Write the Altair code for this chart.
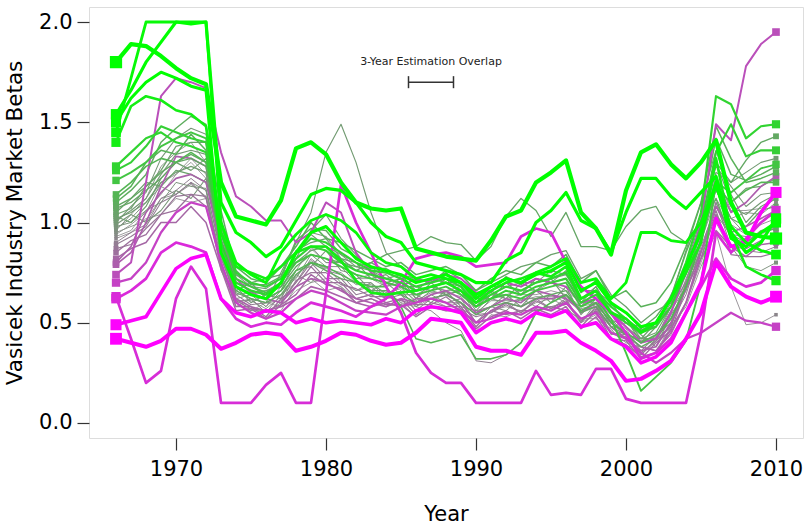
import altair as alt
import pandas as pd

years = list(range(1966, 2011))

GA = [1.80,1.89,1.88,1.83,1.77, 1.72,1.69,1.20,1.03,1.01, 0.99,1.11,1.37,1.40,1.34, 1.20,1.10,1.07,1.06,1.07, 0.87,0.85,0.83,0.82,0.81, 0.91,1.03,1.06,1.20,1.25, 1.31,1.05,0.97,0.84,1.16, 1.35,1.39,1.29,1.22,1.30, 1.41,1.10,0.95,0.93,0.92]
GB = [1.54,1.66,1.80,1.90,2.00, 1.99,2.00,1.10,0.95,0.90, 0.83,0.88,1.01,1.14,1.17, 1.16,1.10,1.00,0.93,0.90, 0.80,0.78,0.76,0.74,0.70, 0.70,0.81,0.85,1.00,1.06, 1.15,1.01,0.97,0.85,1.05, 1.22,1.22,1.13,1.07,1.15, 1.23,0.95,0.85,0.90,1.02]
GC = [1.45,1.72,2.00,2.00,2.00, 2.00,2.00,1.00,0.80,0.74, 0.70,0.85,0.94,1.01,1.04, 1.01,0.95,0.85,0.80,0.78, 0.72,0.74,0.72,0.70,0.62, 0.68,0.72,0.70,0.75,0.78, 0.82,0.70,0.72,0.62,0.70, 0.95,0.95,0.91,0.90,1.00, 1.18,0.98,0.90,0.86,0.84]
GD = [1.40,1.58,1.63,1.61,1.56, 1.54,1.48,0.95,0.78,0.75, 0.72,0.78,0.85,0.88,0.88, 0.81,0.71,0.65,0.64,0.65, 0.66,0.68,0.70,0.66,0.60, 0.66,0.70,0.72,0.75,0.73, 0.78,0.62,0.66,0.55,0.52, 0.45,0.50,0.62,0.75,0.90, 1.32,0.95,0.78,0.74,0.71]
GE = [1.50,1.62,1.70,1.75,1.72, 1.68,1.66,0.85,0.68,0.64, 0.62,0.70,0.85,0.95,0.98, 0.90,0.82,0.78,0.76,0.74, 0.70,0.72,0.74,0.70,0.64, 0.68,0.72,0.70,0.74,0.76, 0.80,0.66,0.70,0.60,0.55, 0.48,0.50,0.62,0.78,0.95, 1.20,0.92,0.88,0.95,1.00]
G1 = [1.28,1.35,1.42,1.45,1.40, 1.38,1.35,0.90,0.70,0.66, 0.64,0.70,0.85,0.92,0.90, 0.85,0.80,0.76,0.75,0.72, 0.68,0.70,0.72,0.68,0.60, 0.64,0.68,0.66,0.70,0.72, 0.75,0.62,0.66,0.58,0.52, 0.46,0.50,0.62,0.80,1.05, 1.63,1.59,1.42,1.48,1.49]
G2 = [1.26,1.30,1.38,1.48,1.45, 1.42,1.40,0.95,0.75,0.70, 0.68,0.72,0.82,0.88,0.86, 0.80,0.76,0.74,0.72,0.70, 0.66,0.68,0.70,0.66,0.58, 0.62,0.66,0.64,0.68,0.70, 0.72,0.60,0.64,0.55,0.50, 0.45,0.48,0.58,0.75,0.98, 1.35,1.49,1.33,1.36,1.36]
G3 = [1.21,1.25,1.30,1.38,1.42, 1.45,1.42,1.00,0.72,0.68, 0.65,0.70,0.80,0.84,0.82, 0.78,0.74,0.72,0.70,0.68, 0.64,0.66,0.68,0.64,0.58, 0.62,0.64,0.62,0.66,0.68, 0.70,0.58,0.62,0.52,0.35, 0.16,0.23,0.30,0.41,0.70, 1.20,1.15,1.21,1.27,1.29]
G4 = [1.14,1.20,1.28,1.32,1.30, 1.35,1.30,0.90,0.68,0.64, 0.62,0.66,0.76,0.80,0.78, 0.74,0.70,0.68,0.68,0.58, 0.42,0.40,0.42,0.44,0.32, 0.32,0.34,0.40,0.55,0.60, 0.64,0.56,0.60,0.50,0.45, 0.40,0.44,0.52,0.68,0.90, 1.18,1.10,1.16,1.20,1.20]
G5 = [1.08,1.12,1.18,1.25,1.30, 1.32,1.28,0.88,0.66,0.62, 0.60,0.64,0.74,0.80,0.76, 0.72,0.70,0.66,0.66,0.64, 0.60,0.62,0.64,0.60,0.54, 0.58,0.60,0.58,0.62,0.64, 0.66,0.55,0.58,0.48,0.44, 0.38,0.42,0.52,0.68,0.92, 1.30,1.20,1.31,1.40,1.43]
N1 = [1.07,1.10,1.16,1.22,1.30, 1.34,1.30,0.92,0.70,0.66, 0.64,0.68,0.78,0.84,0.82, 0.80,0.78,0.80,0.84,0.86, 0.88,0.93,0.90,0.89,0.81, 0.88,1.03,1.12,1.06,0.93, 1.05,0.88,0.88,0.86,0.98, 1.06,1.08,0.95,0.90,0.98, 1.12,0.92,0.90,0.95,0.97]
N2 = [1.02,1.05,1.10,1.20,1.25, 1.28,1.25,0.85,0.65,0.62, 0.60,0.75,0.90,1.05,1.35, 1.49,1.30,1.05,0.85,0.78, 0.70,0.72,0.74,0.70,0.62, 0.66,0.70,0.68,0.72,0.70, 0.72,0.62,0.66,0.55,0.48, 0.42,0.45,0.58,0.76,0.98, 1.25,1.20,1.25,1.30,1.32]
N3 = [0.97,1.02,1.10,1.18,1.14, 1.20,1.16,0.78,0.58,0.62, 0.55,0.60,0.74,0.70,0.78, 0.70,0.66,0.70,0.62,0.66, 0.58,0.64,0.60,0.62,0.50, 0.58,0.56,0.62,0.58,0.64, 0.60,0.50,0.60,0.44,0.46, 0.34,0.42,0.48,0.70,0.82, 1.10,0.88,0.78,0.76,0.80]
N4 = [0.96,1.04,1.12,1.28,1.35, 1.40,1.30,0.98,0.72,0.64, 0.66,0.70,0.82,0.88,0.80, 0.80,0.72,0.74,0.68,0.72, 0.64,0.68,0.66,0.66,0.56, 0.64,0.64,0.66,0.66,0.70, 0.66,0.60,0.60,0.54,0.44, 0.42,0.42,0.58,0.70,0.96, 1.16,1.02,1.05,1.04,1.10]
N5 = [0.92,0.95,1.02,1.04,1.12, 1.10,1.12,0.76,0.62,0.56, 0.56,0.56,0.68,0.72,0.66, 0.68,0.60,0.62,0.58,0.60, 0.53,0.58,0.56,0.57,0.46, 0.54,0.53,0.56,0.56,0.58, 0.56,0.52,0.52,0.47,0.38, 0.38,0.36,0.48,0.58,0.78, 0.95,0.68,0.49,0.50,0.54]
N6 = [0.89,0.93,0.98,1.10,1.14, 1.20,1.12,0.82,0.64,0.59, 0.60,0.61,0.70,0.80,0.72, 0.72,0.64,0.66,0.62,0.64, 0.56,0.62,0.60,0.60,0.54, 0.55,0.60,0.55,0.62,0.57, 0.62,0.50,0.58,0.45,0.44, 0.34,0.41,0.48,0.70,0.86, 1.10,0.94,0.93,0.95,1.00]
N7 = [0.85,0.91,0.94,1.04,1.06, 1.14,1.08,0.80,0.58,0.58, 0.53,0.62,0.68,0.78,0.70, 0.70,0.62,0.64,0.60,0.62, 0.54,0.60,0.58,0.58,0.48, 0.56,0.54,0.56,0.56,0.58, 0.56,0.48,0.56,0.42,0.41, 0.32,0.40,0.46,0.67,0.82, 1.04,0.88,0.87,0.91,0.95]
N8 = [0.82,0.87,0.90,1.00,1.00, 1.08,1.00,0.77,0.56,0.57, 0.52,0.59,0.64,0.74,0.69, 0.67,0.60,0.62,0.59,0.59, 0.53,0.58,0.56,0.56,0.47, 0.53,0.56,0.52,0.57,0.54, 0.58,0.47,0.53,0.42,0.39, 0.33,0.35,0.47,0.60,0.82, 0.96,0.88,0.83,0.89,0.90]
N9 = [1.00,1.08,1.15,1.32,1.42, 1.47,1.44,1.02,0.74,0.68, 0.67,0.72,0.90,0.95,0.93, 0.84,0.80,0.78,0.72,0.74, 0.66,0.72,0.70,0.70,0.60, 0.68,0.68,0.70,0.70,0.76, 0.74,0.66,0.66,0.60,0.50, 0.48,0.48,0.64,0.78,1.02, 1.28,1.18,1.08,1.14,1.15]
N10 = [0.98,1.00,1.06,1.10,1.20, 1.18,1.17,0.84,0.62,0.64, 0.58,0.66,0.72,0.84,0.78, 0.78,0.70,0.70,0.64,0.68, 0.60,0.66,0.64,0.66,0.54, 0.62,0.60,0.62,0.62,0.64, 0.62,0.56,0.58,0.52,0.44, 0.42,0.42,0.56,0.68,0.92, 1.16,1.02,0.94,1.00,1.05]
N11 = [0.94,0.99,1.05,1.20,1.24, 1.32,1.24,0.90,0.64,0.65, 0.58,0.68,0.76,0.87,0.80, 0.80,0.72,0.72,0.68,0.70, 0.62,0.68,0.66,0.68,0.56, 0.64,0.62,0.64,0.64,0.66, 0.64,0.58,0.60,0.52,0.47, 0.36,0.44,0.50,0.72,0.90, 1.24,1.06,1.06,1.07,1.12]
N12 = [1.04,1.07,1.18,1.26,1.38, 1.40,1.40,0.94,0.72,0.65, 0.66,0.68,0.86,0.90,0.92, 0.82,0.80,0.72,0.74,0.68, 0.68,0.66,0.72,0.64,0.62, 0.62,0.70,0.64,0.72,0.70, 0.76,0.60,0.68,0.54,0.52, 0.42,0.50,0.58,0.80,0.96, 1.30,1.10,1.17,1.18,1.22]
N13 = [0.90,0.95,0.99,1.12,1.16, 1.22,1.16,0.86,0.60,0.62, 0.55,0.64,0.70,0.82,0.76, 0.74,0.66,0.68,0.62,0.66, 0.58,0.56,0.50,0.46,0.31, 0.30,0.34,0.40,0.56,0.58, 0.60,0.52,0.56,0.48,0.42, 0.36,0.43,0.50,0.64,0.88, 1.08,0.92,0.86,0.85,0.88]
N14 = [0.87,0.89,0.97,1.04,1.13, 1.14,1.13,0.79,0.61,0.57, 0.56,0.59,0.71,0.75,0.75, 0.69,0.67,0.63,0.63,0.61, 0.59,0.59,0.63,0.57,0.53, 0.55,0.59,0.55,0.61,0.57, 0.61,0.51,0.57,0.45,0.43, 0.35,0.41,0.49,0.67,0.85, 1.06,0.84,0.83,0.83,0.85]
N15 = [1.10,1.16,1.24,1.40,1.47, 1.53,1.49,1.06,0.76,0.69, 0.69,0.73,0.91,0.97,0.96, 0.87,0.83,0.77,0.77,0.73, 0.71,0.71,0.75,0.69,0.63, 0.65,0.73,0.69,0.75,0.75, 0.81,0.65,0.71,0.59,0.55, 0.47,0.53,0.63,0.85,1.04, 1.42,1.24,1.21,1.24,1.28]
N16 = [0.95,0.98,1.01,1.12,1.14, 1.19,1.13,0.83,0.61,0.61, 0.57,0.63,0.73,0.81,0.77, 0.75,0.69,0.69,0.65,0.67, 0.61,0.65,0.65,0.63,0.55, 0.61,0.61,0.61,0.63,0.63, 0.63,0.57,0.59,0.51,0.44, 0.41,0.43,0.56,0.71,0.91, 1.12,0.99,0.94,0.99,1.02]
N17 = [1.03,1.00,1.08,1.22,1.30, 1.26,1.32,0.96,0.66,0.70, 0.62,0.66,0.82,0.96,1.04, 0.92,0.84,0.76,0.70,0.72, 0.62,0.70,0.64,0.66,0.58, 0.66,0.62,0.70,0.66,0.72, 0.62,0.58,0.66,0.50,0.52, 0.40,0.48,0.62,0.86,1.10, 1.36,1.14,1.00,1.08,1.12]
N18 = [1.05,1.12,1.20,1.18,1.26, 1.24,1.20,0.90,0.74,0.70, 0.72,0.74,0.80,0.86,0.88, 0.82,0.76,0.80,0.76,0.74, 0.72,0.70,0.76,0.72,0.66, 0.70,0.74,0.78,0.80,0.84, 0.86,0.72,0.76,0.64,0.58, 0.50,0.56,0.60,0.74,0.94, 1.18,1.02,0.98,1.06,1.08]
N19 = [0.99,1.04,1.00,1.06,1.16, 1.12,1.22,0.88,0.68,0.60, 0.64,0.62,0.76,0.78,0.86, 0.76,0.74,0.66,0.70,0.64, 0.64,0.60,0.66,0.58,0.56, 0.58,0.64,0.58,0.66,0.60, 0.68,0.54,0.62,0.48,0.50, 0.44,0.38,0.54,0.66,0.86, 1.04,0.94,0.90,0.96,0.98]
N20 = [1.12,1.18,1.30,1.36,1.34, 1.44,1.36,1.00,0.78,0.72, 0.70,0.78,0.88,1.00,0.92, 0.90,0.86,0.82,0.78,0.80, 0.74,0.76,0.78,0.74,0.66, 0.72,0.76,0.74,0.80,0.78, 0.84,0.70,0.76,0.62,0.66, 0.58,0.60,0.70,0.88,1.10, 1.48,1.32,1.20,1.22,1.25]
N21 = [0.93,0.96,1.06,1.14,1.24, 1.30,1.22,0.86,0.60,0.56, 0.60,0.58,0.66,0.70,0.72, 0.68,0.62,0.64,0.66,0.60, 0.58,0.62,0.58,0.60,0.50, 0.56,0.58,0.56,0.60,0.62, 0.58,0.50,0.54,0.46,0.40, 0.38,0.36,0.44,0.60,0.80, 1.00,0.86,0.92,0.94,0.98]
N22 = [1.01,1.06,1.12,1.24,1.34, 1.36,1.34,0.96,0.70,0.68, 0.64,0.70,0.84,0.94,0.88, 0.84,0.78,0.76,0.72,0.70, 0.66,0.68,0.70,0.68,0.58, 0.64,0.68,0.66,0.70,0.72, 0.74,0.62,0.68,0.56,0.50, 0.46,0.48,0.60,0.78,0.98, 1.22,1.08,1.04,1.10,1.14]
MA = [0.42,0.40,0.38,0.41,0.47, 0.47,0.44,0.37,0.40,0.44, 0.45,0.44,0.36,0.38,0.41, 0.45,0.44,0.41,0.39,0.40, 0.45,0.52,0.51,0.50,0.38, 0.36,0.36,0.34,0.45,0.45, 0.46,0.40,0.36,0.31,0.21, 0.22,0.26,0.31,0.42,0.55, 0.80,0.68,0.63,0.60,0.63]
MB = [0.49,0.51,0.53,0.65,0.77, 0.82,0.84,0.62,0.55,0.53, 0.56,0.55,0.50,0.52,0.50, 0.51,0.50,0.49,0.52,0.50, 0.56,0.58,0.57,0.55,0.45, 0.50,0.52,0.50,0.55,0.53, 0.56,0.48,0.50,0.42,0.38, 0.30,0.33,0.40,0.55,0.70, 1.02,0.88,0.90,1.05,1.15]
MC = [0.62,0.66,0.72,0.85,0.90, 0.88,0.85,0.62,0.52,0.48, 0.50,0.49,0.55,0.60,0.58, 0.56,0.53,0.58,0.62,0.70, 0.82,0.84,0.85,0.83,0.78, 0.79,0.80,0.93,0.97,0.95, 0.80,0.68,0.62,0.55,0.45, 0.32,0.35,0.42,0.55,0.68, 0.82,0.72,0.68,0.70,0.76]
LOW = [0.63,0.42,0.20,0.26,0.62, 0.78,0.67,0.10,0.10,0.10, 0.19,0.25,0.10,0.10,0.65, 1.19,1.00,0.85,0.68,0.55, 0.35,0.25,0.20,0.20,0.10, 0.10,0.10,0.10,0.26,0.14, 0.15,0.14,0.27,0.27,0.12, 0.10,0.10,0.10,0.10,0.45, 0.95,0.85,0.92,1.00,1.06]
M2 = [0.70,0.72,0.80,0.95,1.05, 1.10,1.08,0.80,0.60,0.55, 0.52,0.55,0.62,0.66,0.64, 0.60,0.56,0.55,0.54,0.58, 0.60,0.62,0.60,0.56,0.50, 0.52,0.55,0.54,0.58,0.56, 0.60,0.52,0.55,0.45,0.42, 0.35,0.30,0.35,0.42,0.45, 0.50,0.55,0.51,0.50,0.48]
M3 = [0.74,0.80,1.20,1.63,1.72, 1.70,1.67,1.35,1.13,1.08, 1.01,1.01,0.90,0.95,1.10, 1.05,0.85,0.75,0.70,0.68, 0.72,0.70,0.74,0.72,0.65, 0.66,0.70,0.68,0.72,0.70, 0.68,0.60,0.62,0.55,0.48, 0.40,0.42,0.55,0.75,1.00, 1.49,1.41,1.78,1.89,1.95]
M4 = [0.79,0.85,1.00,1.18,1.33, 1.32,1.28,0.90,0.72,0.65, 0.62,0.60,0.68,0.72,0.70, 0.66,0.62,0.60,0.58,0.62, 0.60,0.64,0.66,0.62,0.55, 0.58,0.62,0.60,0.66,0.64, 0.62,0.56,0.58,0.48,0.42, 0.36,0.38,0.50,0.68,0.92, 1.20,1.05,1.10,1.18,1.23]
M5 = [0.80,0.88,1.05,1.15,1.22, 1.24,1.20,0.88,0.62,0.58, 0.56,0.58,0.62,0.68,0.66, 0.63,0.60,0.58,0.60,0.58, 0.62,0.62,0.64,0.60,0.50, 0.56,0.60,0.58,0.62,0.62, 0.64,0.55,0.60,0.50,0.44, 0.38,0.36,0.45,0.60,0.85, 1.08,0.95,0.98,1.02,1.06]

series = {
    "GA": GA, "GB": GB, "GC": GC, "GD": GD, "GE": GE,
    "G1": G1, "G2": G2, "G3": G3, "G4": G4, "G5": G5,
    "N1": N1, "N2": N2, "N3": N3, "N4": N4, "N5": N5, "N6": N6, "N7": N7, "N8": N8,
    "N9": N9, "N10": N10, "N11": N11, "N12": N12, "N13": N13, "N14": N14, "N15": N15,
    "N16": N16, "N17": N17, "N18": N18, "N19": N19, "N20": N20, "N21": N21, "N22": N22,
    "MA": MA, "MB": MB, "MC": MC, "LOW": LOW, "M2": M2, "M3": M3, "M4": M4, "M5": M5,
}

x_ticks = [1970, 1980, 1990, 2000, 2010]
y_ticks = [0.0, 0.5, 1.0, 1.5, 2.0]
note_text = ["3-Year Estimation Overlap"]

CENTER = 0.93
start = {k: v[0] for k, v in series.items()}
order = sorted(series, key=lambda k: abs(start[k] - CENTER))
rank = {k: i for i, k in enumerate(order)}

rows = []
for name in order:
    vals = series[name]
    assert len(vals) == 45, (name, len(vals))
    for yr, v in zip(years, vals):
        rows.append({"key": f"{rank[name]:02d}_{name}", "year": yr, "beta": v, "start": start[name]})
df = pd.DataFrame(rows)
ends = df[df["year"].isin([1966, 2010])]

FONT = "DejaVu Sans"
xscale = alt.Scale(domain=[1964.2, 2011.8], nice=False, zero=False)
yscale = alt.Scale(domain=[-0.075, 2.075], nice=False, zero=False)
cscale = alt.Scale(domain=[0.48, CENTER, 1.48], range=["#ff00ff", "#888888", "#00ff00"],
                   clamp=True, interpolate="rgb")
wscale = alt.Scale(domain=[0.42, CENTER, 1.80], range=[4.0, 0.8, 4.2], clamp=True)
sscale = alt.Scale(domain=[0.42, CENTER, 1.80], range=[140, 10, 150], clamp=True)

xaxis = alt.Axis(values=x_ticks, format="d", title="Year", grid=False, domain=False,
                 tickSize=12, tickColor="#333", tickWidth=1.2, labelFontSize=21, labelPadding=8,
                 labelFont=FONT, titleFont=FONT, titleFontSize=21, titleFontWeight="normal",
                 titlePadding=24, labelColor="black", titleColor="black")
yaxis = alt.Axis(values=y_ticks, format=".1f", title="Vasicek Industry Market Betas", grid=False,
                 domain=False, tickSize=12, tickColor="#333", tickWidth=1.2, labelFontSize=21,
                 labelPadding=5, labelFont=FONT, titleFont=FONT, titleFontSize=21.5,
                 titleFontWeight="normal", titlePadding=12, labelColor="black", titleColor="black")

X = alt.X("year:Q", scale=xscale, axis=xaxis)
Y = alt.Y("beta:Q", scale=yscale, axis=yaxis)

lines = alt.Chart(df).mark_line(strokeJoin="round", strokeCap="round").encode(
    x=X, y=Y, detail="key:N",
    color=alt.Color("start:Q", scale=cscale, legend=None),
    strokeWidth=alt.StrokeWidth("start:Q", scale=wscale, legend=None),
)

squares = alt.Chart(ends).mark_square(filled=True, opacity=1).encode(
    x=alt.X("year:Q", scale=xscale),
    y=alt.Y("beta:Q", scale=yscale),
    color=alt.Color("start:Q", scale=cscale, legend=None),
    size=alt.Size("start:Q", scale=sscale, legend=None),
)

note_df = pd.DataFrame({"x": [1987.0], "y": [1.80], "t": note_text})
note = alt.Chart(note_df).mark_text(fontSize=11, font=FONT, color="#222", baseline="middle").encode(
    x=alt.X("x:Q", scale=xscale), y=alt.Y("y:Q", scale=yscale), text="t:N")

bar_df = pd.DataFrame({"x": [1985.5], "x2": [1988.5], "y": [1.70]})
bar = alt.Chart(bar_df).mark_rule(color="#333", strokeWidth=1.5).encode(
    x=alt.X("x:Q", scale=xscale), x2="x2:Q", y=alt.Y("y:Q", scale=yscale))
caps_df = pd.DataFrame({"x": [1985.5, 1988.5], "y": [1.73, 1.73], "y2": [1.67, 1.67]})
caps = alt.Chart(caps_df).mark_rule(color="#333", strokeWidth=1.5).encode(
    x=alt.X("x:Q", scale=xscale), y=alt.Y("y:Q", scale=yscale), y2="y2:Q")

chart = alt.layer(lines, squares, note, bar, caps).properties(
    width=714, height=431,
    padding={"left": 89, "top": 7, "right": 2, "bottom": 88},
    autosize=alt.AutoSizeParams(type="none"),
).configure_view(stroke="#333", strokeWidth=1.5).configure(background="white")

chart.save("out.html", embed_options={"renderer": "svg", "actions": False})
